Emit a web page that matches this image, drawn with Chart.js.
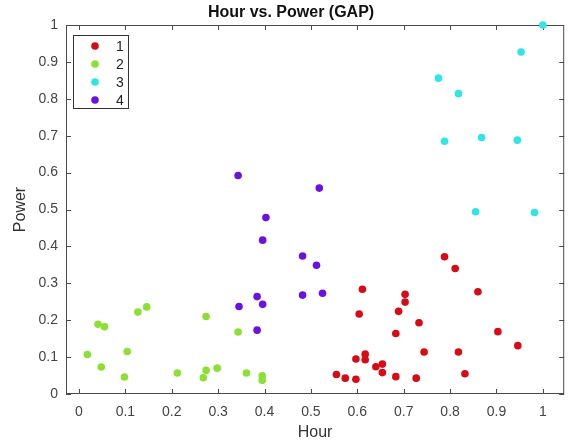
<!DOCTYPE html>
<html><head><meta charset="utf-8">
<script src="https://cdn.jsdelivr.net/npm/chart.js@4/dist/chart.umd.min.js"></script>
<style>html,body{margin:0;padding:0;background:#fff}#wrap{width:568px;height:444px}</style>
</head><body><div id="wrap"><canvas id="c" width="568" height="444"></canvas></div>
<script>
const chartTitle = 'Hour vs. Power (GAP)';
const xTitle = 'Hour';
const yTitle = 'Power';
const seriesLabels = ['1', '2', '3', '4'];
const seriesColors = ['#d70a16', '#8be033', '#2ee6e6', '#6a12e3'];

const hour1 = [0.611,0.604,0.597,0.617,0.617,0.555,0.574,0.597,0.640,0.654,0.654,0.683,0.683,0.689,0.703,0.703,0.727,0.733,0.744,0.788,0.811,0.860,0.818,0.832,0.903,0.946];
const power1 = [0.284,0.217,0.095,0.108,0.093,0.053,0.043,0.040,0.074,0.081,0.058,0.047,0.164,0.224,0.270,0.249,0.043,0.193,0.114,0.372,0.340,0.277,0.114,0.055,0.169,0.131];

const hour2 = [0.018,0.041,0.055,0.048,0.104,0.098,0.127,0.146,0.212,0.274,0.268,0.274,0.298,0.343,0.361,0.395,0.395];
const power2 = [0.107,0.189,0.182,0.073,0.115,0.046,0.222,0.236,0.057,0.210,0.044,0.064,0.070,0.168,0.057,0.049,0.037];

const hour3 = [1.0,0.953,0.775,0.818,0.788,0.868,0.945,0.855,0.982];
const power3 = [1.0,0.927,0.856,0.814,0.685,0.695,0.688,0.494,0.492];

const hour4 = [0.343,0.518,0.403,0.396,0.482,0.512,0.482,0.525,0.384,0.396,0.345,0.384];
const power4 = [0.592,0.558,0.478,0.417,0.374,0.349,0.268,0.273,0.264,0.243,0.237,0.173];

const xTickValues = [0,0.1,0.2,0.3,0.4,0.5,0.6,0.7,0.8,0.9,1];
const yTickValues = [0,0.1,0.2,0.3,0.4,0.5,0.6,0.7,0.8,0.9,1];

const seriesX = [hour1, hour2, hour3, hour4];
const seriesY = [power1, power2, power3, power4];

const FONT = "'Liberation Sans', Arial, Helvetica, sans-serif";
const AXIS_COLOR = '#4a4a4a';

const datasets = seriesLabels.map((lab, i) => ({
  label: lab,
  data: seriesX[i].map((v, j) => ({x: v, y: seriesY[i][j]})),
  backgroundColor: seriesColors[i],
  borderColor: seriesColors[i],
  borderWidth: 0,
  pointRadius: 3.8,
  pointHoverRadius: 3.8,
  clip: false
}));

function line(ctx, x1, y1, x2, y2) { ctx.beginPath(); ctx.moveTo(x1, y1); ctx.lineTo(x2, y2); ctx.stroke(); }

const framePlugin = {
  id: 'frame',
  beforeDatasetsDraw(chart) {
    const {ctx, chartArea: a, scales: {x, y}} = chart;
    ctx.save();
    ctx.strokeStyle = AXIS_COLOR;
    ctx.lineWidth = 1;
    ctx.strokeRect(a.left + 0.5, a.top + 0.5, a.right - a.left - 1, a.bottom - a.top - 1);
    const tl = 5;
    x.ticks.forEach(t => {
      const px = Math.round(x.getPixelForValue(t.value)) + 0.5;
      line(ctx, px, a.bottom, px, a.bottom - tl);
      line(ctx, px, a.top, px, a.top + tl);
    });
    y.ticks.forEach(t => {
      const py = Math.round(y.getPixelForValue(t.value)) + 0.5;
      line(ctx, a.left, py, a.left + tl, py);
      line(ctx, a.right, py, a.right - tl, py);
    });
    ctx.restore();
  },
  afterDraw(chart) {
    const {ctx, chartArea: a} = chart;
    ctx.save();
    ctx.fillStyle = '#111';
    ctx.font = 'bold 16px ' + FONT;
    ctx.textAlign = 'center';
    ctx.textBaseline = 'middle';
    ctx.fillText(chartTitle, 291, 13);
    const lx = a.left + 7, ly = a.top + 10, lw = 56, lh = 74;
    ctx.fillStyle = '#fff';
    ctx.fillRect(lx, ly, lw, lh);
    ctx.strokeStyle = '#333';
    ctx.strokeRect(lx + 0.5, ly + 0.5, lw - 1, lh - 1);
    ctx.font = '14px ' + FONT;
    chart.data.datasets.forEach((ds, i) => {
      const cy = ly + 11 + i * 18;
      ctx.fillStyle = ds.backgroundColor;
      ctx.beginPath(); ctx.arc(lx + 22, cy, 3.8, 0, Math.PI * 2); ctx.fill();
      ctx.fillStyle = '#222';
      ctx.textAlign = 'center';
      ctx.fillText(ds.label, lx + 47, cy + 1);
    });
    ctx.restore();
  }
};

new Chart(document.getElementById('c'), {
  type: 'scatter',
  data: {datasets},
  plugins: [framePlugin],
  options: {
    responsive: false,
    animation: false,
    devicePixelRatio: 1,
    layout: {padding: {left: 0, right: 2, top: 25, bottom: 0}},
    plugins: {legend: {display: false}, title: {display: false}, tooltip: {enabled: false}},
    scales: {
      x: {
        type: 'linear', min: -0.028, max: 1.046,
        afterBuildTicks: s => { s.ticks = xTickValues.map(v => ({value: v})); },
        afterFit: s => { s.height = 50; s.paddingLeft = 0; s.paddingRight = 0; },
        grid: {display: false, drawTicks: false},
        border: {display: false},
        ticks: {color: '#444', font: {family: FONT, size: 14}, padding: 10, maxRotation: 0,
                callback: v => String(v)},
        title: {display: true, text: xTitle, color: '#333', font: {family: FONT, size: 16}, padding: {top: 0, bottom: 2}}
      },
      y: {
        type: 'linear', min: 0, max: 1,
        afterBuildTicks: s => { s.ticks = yTickValues.map(v => ({value: v})); },
        afterFit: s => { s.width = 66; },
        grid: {display: false, drawTicks: false},
        border: {display: false},
        ticks: {color: '#444', font: {family: FONT, size: 14}, padding: 8, callback: v => String(v)},
        title: {display: true, text: yTitle, color: '#333', font: {family: FONT, size: 16}, padding: {top: 11, bottom: 0}}
      }
    }
  }
});
</script>
</body></html>
